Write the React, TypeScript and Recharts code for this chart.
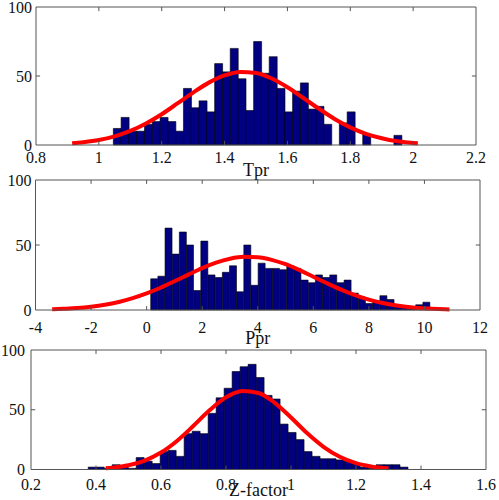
import React from "react";
import { ComposedChart, Bar, Line, XAxis, YAxis, ReferenceLine, Label } from "recharts";

// histogram counts, left to right
const TPR_TICKS = [0.8, 1, 1.2, 1.4, 1.6, 1.8, 2, 2.2];
const TPR_BIN_START = 1.046;
const TPR_BIN_WIDTH = 0.0248;
const TPR_COUNTS = [12, 20, 10, 10, 15, 17, 20, 17, 10, 41, 27, 32, 24, 59, 53, 70, 48, 25, 75, 52, 64, 41, 24, 39, 45, 26, 28, 15, 0, 16, 24, 0, 8, 0, 0, 0, 7];
const TPR_FIT_X = [0.915, 0.95, 1.0, 1.05, 1.1, 1.15, 1.2, 1.25, 1.3, 1.35, 1.4, 1.45, 1.5, 1.55, 1.6, 1.65, 1.7, 1.75, 1.8, 1.85, 1.9, 1.95, 2.0, 2.015];
const TPR_FIT_Y = [1.2, 2.0, 3.6, 6.3, 10.2, 15.6, 22.3, 30.1, 38.0, 45.2, 50.4, 52.9, 52.1, 48.2, 41.9, 34.2, 26.3, 18.9, 12.8, 8.1, 4.9, 2.7, 1.4, 1.2];

const PPR_TICKS = [-4, -2, 0, 2, 4, 6, 8, 10, 12];
const PPR_BIN_START = 0.147;
const PPR_BIN_WIDTH = 0.2578;
const PPR_COUNTS = [24, 26, 63, 43, 60, 50, 15, 53, 27, 25, 29, 34, 14, 50, 19, 36, 32, 32, 31, 34, 32, 23, 21, 27, 25, 27, 21, 23, 13, 10, 5, 7, 11, 8, 3, 2, 1, 4, 6];
const PPR_FIT_X = [-3.4, -3, -2.5, -2, -1.5, -1, -0.5, 0, 0.5, 1, 1.5, 2, 2.5, 3, 3.5, 4, 4.5, 5, 5.5, 6, 6.5, 7, 7.5, 8, 8.5, 9, 9.5, 10, 10.5, 10.9];
const PPR_FIT_Y = [0.5, 0.9, 1.5, 2.5, 4.0, 6.2, 9.1, 12.7, 17.1, 22.1, 27.2, 32.2, 36.4, 39.4, 40.9, 40.6, 38.6, 35.2, 30.7, 25.6, 20.5, 15.7, 11.5, 8.0, 5.4, 3.5, 2.1, 1.3, 0.7, 0.4];

const Z_TICKS = [0.2, 0.4, 0.6, 0.8, 1, 1.2, 1.4, 1.6];
const Z_BIN_START = 0.376;
const Z_BIN_WIDTH = 0.0246;
const Z_COUNTS = [2, 2, 1, 4, 2, 1, 10, 7, 5, 15, 16, 11, 30, 32, 30, 47, 60, 68, 82, 86, 88, 77, 62, 59, 38, 31, 25, 15, 11, 9, 9, 8, 7, 5, 2, 1, 4, 4, 4, 2];
const Z_FIT_X = [0.43, 0.45, 0.5, 0.55, 0.6, 0.65, 0.7, 0.75, 0.8, 0.85, 0.9, 0.95, 1.0, 1.05, 1.1, 1.15, 1.2, 1.25, 1.3];
const Z_FIT_Y = [1.0, 1.5, 3.5, 7.5, 14.2, 24.1, 36.6, 49.7, 60.4, 65.7, 64.0, 55.8, 43.5, 30.3, 19.0, 10.6, 5.3, 2.4, 0.95];

const Y_TICKS = [0, 50, 100];

const FONT = '"Liberation Serif", "Times New Roman", serif';
const AXIS = "#555";
const BAR_FILL = "#000080";
const FIT_RED = "#ff0000";

const toBins = (start: number, width: number, counts: number[]) =>
  counts.map((c, i) => ({ x: start + (i + 0.5) * width, count: c }));

const toFit = (xs: number[], ys: number[]) => xs.map((x, i) => ({ x, fit: ys[i] }));

function HistPanel({ top, height, margin, xAxisHeight, tickGap, yTickGap, ticks, label, bins, fit, tickLenX, tickLenY }: any) {
  const x0 = ticks[0];
  const x1 = ticks[ticks.length - 1];
  const inner = ticks.slice(1, -1);
  return (
    <div style={{ position: "absolute", left: 0, top, width: 499, height }}>
      <ComposedChart width={499} height={height} data={bins} margin={margin} barCategoryGap={0} barGap={0}>
        <XAxis
          xAxisId="x" dataKey="x" type="number" domain={[x0, x1]} ticks={ticks} interval={0}
          allowDataOverflow tickLine={false} tickSize={0} tickMargin={tickGap} height={xAxisHeight}
          axisLine={{ stroke: AXIS }}
          tick={{ fontSize: 16, fill: "#111", fontFamily: FONT }}
        >
          <Label value={label} position="insideBottom" offset={0} style={{ fontSize: 18, fill: "#111", fontFamily: FONT }} />
        </XAxis>
        <XAxis xAxisId="fit" dataKey="x" type="number" domain={[x0, x1]} allowDataOverflow hide height={0} />
        <YAxis
          yAxisId="y" type="number" domain={[0, 100]} ticks={Y_TICKS} interval={0} width={30}
          tickLine={false} tickSize={0} tickMargin={yTickGap} axisLine={{ stroke: AXIS }}
          tick={{ fontSize: 16, fill: "#111", fontFamily: FONT }}
        />
        <Bar xAxisId="x" yAxisId="y" dataKey="count" fill={BAR_FILL} stroke="#000" strokeWidth={0.6} isAnimationActive={false} />
        <Line
          xAxisId="fit" yAxisId="y" data={fit} dataKey="fit" type="monotone"
          stroke={FIT_RED} strokeWidth={4} dot={false} isAnimationActive={false}
        />
        {/* box frame + inward ticks, MATLAB style */}
        <ReferenceLine xAxisId="x" yAxisId="y" y={100} stroke={AXIS} />
        <ReferenceLine xAxisId="x" yAxisId="y" x={x1} stroke={AXIS} />
        {inner.map((t: number) => (
          <ReferenceLine key={"b" + t} xAxisId="x" yAxisId="y" stroke={AXIS}
            segment={[{ x: t, y: 0 }, { x: t, y: tickLenY }]} />
        ))}
        {inner.map((t: number) => (
          <ReferenceLine key={"t" + t} xAxisId="x" yAxisId="y" stroke={AXIS}
            segment={[{ x: t, y: 100 }, { x: t, y: 100 - tickLenY }]} />
        ))}
        <ReferenceLine xAxisId="x" yAxisId="y" stroke={AXIS} segment={[{ x: x0, y: 50 }, { x: x0 + tickLenX, y: 50 }]} />
        <ReferenceLine xAxisId="x" yAxisId="y" stroke={AXIS} segment={[{ x: x1, y: 50 }, { x: x1 - tickLenX, y: 50 }]} />
      </ComposedChart>
    </div>
  );
}

export default function App() {
  return (
    <div style={{ position: "absolute", left: 0, top: 0, width: 499, height: 500, background: "#fff", overflow: "hidden" }}>
      <HistPanel
        top={0} height={181} margin={{ top: 7, right: 23, bottom: 5, left: 6 }}
        xAxisHeight={31} tickGap={7} yTickGap={4}
        ticks={TPR_TICKS} label="Tpr"
        bins={toBins(TPR_BIN_START, TPR_BIN_WIDTH, TPR_COUNTS)}
        fit={toFit(TPR_FIT_X, TPR_FIT_Y)}
        tickLenX={0.013} tickLenY={3}
      />
      <HistPanel
        top={171} height={177} margin={{ top: 9, right: 19, bottom: 4, left: 5.5 }}
        xAxisHeight={34} tickGap={11.5} yTickGap={4}
        ticks={PPR_TICKS} label="Ppr"
        bins={toBins(PPR_BIN_START, PPR_BIN_WIDTH, PPR_COUNTS)}
        fit={toFit(PPR_FIT_X, PPR_FIT_Y)}
        tickLenX={0.15} tickLenY={3}
      />
      <HistPanel
        top={341} height={159} margin={{ top: 9, right: 13, bottom: 4, left: 1 }}
        xAxisHeight={26.5} tickGap={9} yTickGap={6}
        ticks={Z_TICKS} label="Z-factor"
        bins={toBins(Z_BIN_START, Z_BIN_WIDTH, Z_COUNTS)}
        fit={toFit(Z_FIT_X, Z_FIT_Y)}
        tickLenX={0.013} tickLenY={3.3}
      />
    </div>
  );
}
